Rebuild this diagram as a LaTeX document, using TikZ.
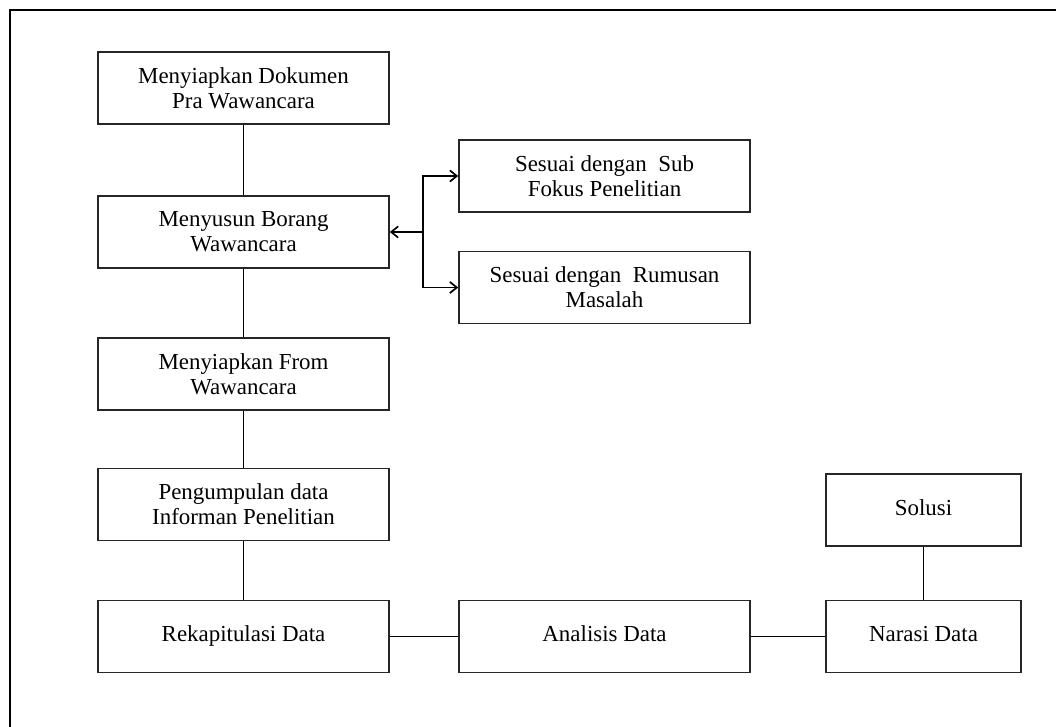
\documentclass[tikz,border=0pt]{standalone}
\usepackage{fontspec}
\setmainfont{Liberation Serif}
\usetikzlibrary{arrows.meta}
\begin{document}
\begin{tikzpicture}
[x=0.025cm, y=-0.025cm,
 nodes={draw=black!85, line width=1.1pt, fill=white, align=center, inner sep=0pt,
        minimum width=7.275cm, minimum height=1.8cm, font=\fontsize{16.3}{18}\selectfont},
 small/.style={minimum width=4.875cm},
 oneline/.style={text height=.85em, text depth=.1em},
 >={Straight Barb[length=5pt,width=8pt]}, line width=1.2pt]
\useasboundingbox (0,0) rectangle (1056,727);
\draw [line width=1.5pt] (10,727) -- (10,10) -- (1056,10);

\node (Pra) at (243.5,88) {Menyiapkan Dokumen\\Pra Wawancara};
\node (Borang) at (243.5,232) {Menyusun Borang\\Wawancara};
\node (Form) at (243.5,374) {Menyiapkan From\\Wawancara};
\node (Kumpul) at (243.5,504.5) {Pengumpulan data\\Informan Penelitian};
\node (Rekap) at (243.5,636.5) [oneline] {Rekapitulasi Data};
\node (Analisis) at (604.5,636.5) [oneline] {Analisis Data};
\node (Narasi) at (923.5,636.5) [small, oneline] {Narasi Data};
\node (Solusi) at (923.5,510) [small, oneline] {Solusi};
\node (SubFokus) at (604.5,176) {Sesuai dengan\ \ Sub\\Fokus Penelitian};
\node (Rumusan) at (604.5,287.5) {Sesuai dengan\ \ Rumusan\\Masalah};
\coordinate (Cabang) at (423,232);

\draw (Pra) -- (Borang);
\draw (Borang) -- (Form);
\draw (Form) -- (Kumpul);
\draw (Kumpul) -- (Rekap);
\draw (Rekap) -- (Analisis);
\draw (Analisis) -- (Narasi);
\draw (Narasi) -- (Solusi);
\draw [->] (Cabang) -- (Borang);
\draw [->] (Cabang) |- (SubFokus);
\draw [->] (Cabang) |- (Rumusan);
\end{tikzpicture}
\end{document}
